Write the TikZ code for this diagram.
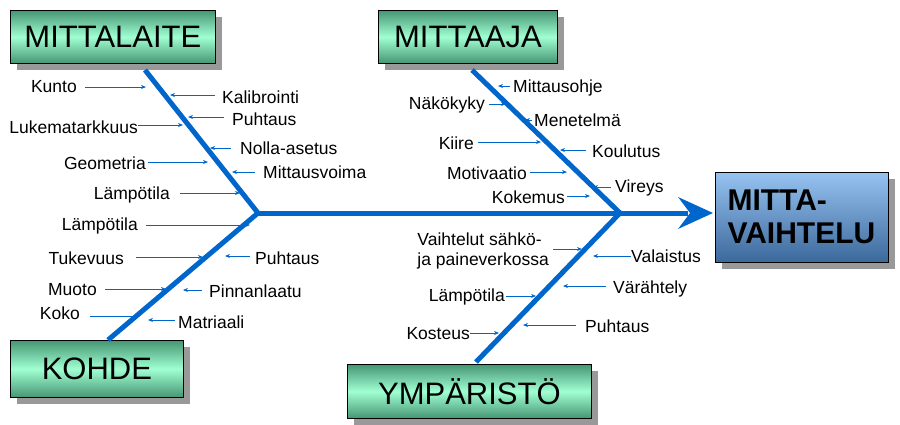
\documentclass[tikz,border=0pt]{standalone}
\usepackage{fontspec}
\setmainfont{Liberation Sans}
\usetikzlibrary{shadows,arrows.meta}
\definecolor{bl}{RGB}{0,102,204}
\definecolor{gdark}{RGB}{70,150,115}
\definecolor{glight}{RGB}{160,255,210}
\definecolor{bdark}{RGB}{60,105,155}
\definecolor{blight}{RGB}{150,195,240}
\begin{document}
\begin{tikzpicture}[x=1pt,y=-1pt,
  cat/.style={draw=black,line width=0.8pt,top color=gdark,bottom color=gdark,middle color=glight,
    font=\fontsize{31}{33}\selectfont,inner sep=0,anchor=north west,
    drop shadow={shadow xshift=7pt,shadow yshift=-7pt,fill=gray!80,opacity=1}},
  lab/.style={font=\fontsize{17.5}{20}\selectfont,inner sep=0},
  bone/.style={draw=bl,line width=5pt},
  sa/.style={draw=bl,line width=0.8pt,-{Stealth[length=5pt,width=4pt]}}]
\useasboundingbox (0,0) rectangle (900,424);
% category boxes
\node[cat,minimum width=205,minimum height=53] (ml) at (10,10) {MITTALAITE};
\node[cat,minimum width=179,minimum height=53] (mj) at (378,10) {MITTAAJA};
\node[cat,minimum width=173,minimum height=57] (ko) at (10,340) {KOHDE};
\node[cat,minimum width=244,minimum height=54] (ym) at (347,364) {YMPÄRISTÖ};
\node[draw=black,line width=0.8pt,top color=blight,bottom color=bdark,anchor=north west,
  minimum width=173,minimum height=90,inner sep=0,
  drop shadow={shadow xshift=7pt,shadow yshift=-7pt,fill=gray!80,opacity=1}] (mv) at (715,172) {};
\node[font=\bfseries\fontsize{30}{33}\selectfont,align=left,anchor=west] (mvt) at (724,217) {MITTA-\\VAIHTELU};
% spine and bones
\coordinate (j1) at (258,213);
\coordinate (j2) at (620,213);
\coordinate (tip) at (713,213);
\draw[bone] (j1) -- (688,213);
\fill[bl] (678,197) -- (tip) -- (678,229) -- (690,213) -- cycle;
\draw[bone] (145,70) -- (j1);
\draw[bone] (108,340) -- (j1);
\draw[bone] (472,70) -- (j2);
\draw[bone] (476,362) -- (j2);
% Mittalaite
\node[lab,anchor=east] (a1) at (77,87) {Kunto};
\draw[sa] (85,87) -- (146,87);
\node[lab,anchor=west] (a2) at (222,97) {Kalibrointi};
\draw[sa] (215,95) -- (170,95);
\node[lab,anchor=east] (a3) at (138,127) {Lukematarkkuus};
\draw[sa] (138,125) -- (183,125);
\node[lab,anchor=west] (a4) at (232,119) {Puhtaus};
\draw[sa] (224,117) -- (188,117);
\node[lab,anchor=west] (a5) at (240,148) {Nolla-asetus};
\draw[sa] (231,148) -- (210,148);
\node[lab,anchor=east] (a6) at (146,163) {Geometria};
\draw[sa] (148,162) -- (208,162);
\node[lab,anchor=west] (a7) at (263,172) {Mittausvoima};
\draw[sa] (255,172) -- (232,172);
\node[lab,anchor=east] (a8) at (170,195) {Lämpötila};
\draw[sa] (180,193) -- (240,193);
\node[lab,anchor=east] (a9) at (138,226) {Lämpötila};
\draw[sa] (146,225) -- (250,225);
% Kohde
\node[lab,anchor=east] (b1) at (124,258) {Tukevuus};
\draw[sa] (136,257) -- (203,257);
\node[lab,anchor=west] (b2) at (255,258) {Puhtaus};
\draw[sa] (250,256) -- (225,256);
\node[lab,anchor=east] (b3) at (97,290) {Muoto};
\draw[sa] (105,289) -- (166,289);
\node[lab,anchor=west] (b4) at (209,291) {Pinnanlaatu};
\draw[sa] (202,290) -- (183,290);
\node[lab,anchor=east] (b5) at (80,313) {Koko};
\draw[sa] (90,316) -- (140,316);
\node[lab,anchor=west] (b6) at (178,322) {Matriaali};
\draw[sa] (175,320) -- (148,320);
% Mittaaja
\node[lab,anchor=west] (c1) at (513,88) {Mittausohje};
\draw[sa] (510,86) -- (498,86);
\node[lab,anchor=east] (c2) at (485,105) {Näkökyky};
\draw[sa] (489,104) -- (506,104);
\node[lab,anchor=west] (c3) at (534,120) {Menetelmä};
\draw[sa] (532,120) -- (525,120);
\node[lab,anchor=east] (c4) at (474,143) {Kiire};
\draw[sa] (478,142) -- (541,142);
\node[lab,anchor=west] (c5) at (592,151) {Koulutus};
\draw[sa] (586,150) -- (560,150);
\node[lab,anchor=east] (c6) at (527,173) {Motivaatio};
\draw[sa] (530,172) -- (567,172);
\node[lab,anchor=west] (c7) at (615,188) {Vireys};
\draw[sa] (611,187) -- (593,187);
\node[lab,anchor=east] (c8) at (565,197) {Kokemus};
\draw[sa] (567,196) -- (590,196);
% Ymparisto
\node[lab,anchor=east,align=left] (d1) at (549,251) {Vaihtelut sähkö-\\ja paineverkossa};
\draw[sa] (553,249) -- (582,249);
\node[lab,anchor=west] (d2) at (631,256) {Valaistus};
\draw[sa] (631,256) -- (593,256);
\node[lab,anchor=west] (d3) at (613,289) {Värähtely};
\draw[sa] (606,286) -- (563,286);
\node[lab,anchor=east] (d4) at (505,297) {Lämpötila};
\draw[sa] (506,296) -- (536,296);
\node[lab,anchor=west] (d5) at (585,326) {Puhtaus};
\draw[sa] (576,325) -- (523,325);
\node[lab,anchor=east] (d6) at (470,334) {Kosteus};
\draw[sa] (470,333) -- (499,333);
\end{tikzpicture}
\end{document}
